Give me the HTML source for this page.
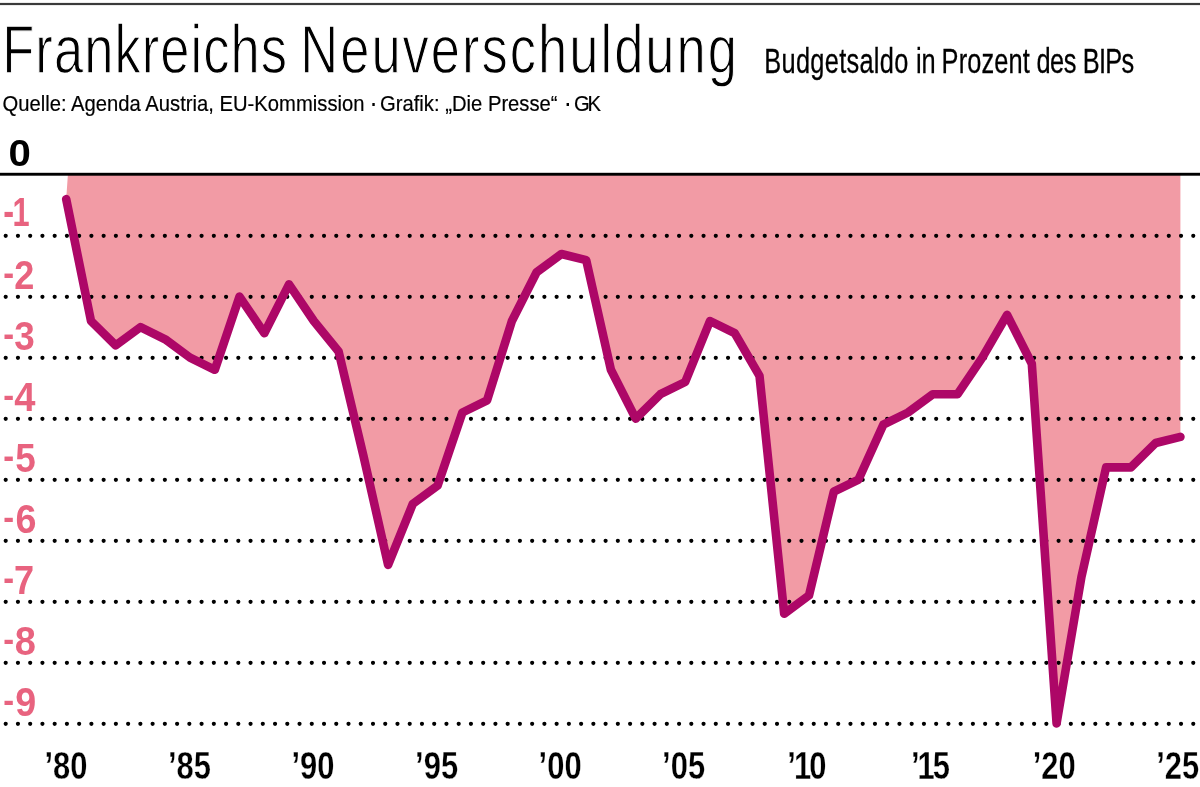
<!DOCTYPE html>
<html lang="de"><head><meta charset="utf-8"><title>Frankreichs Neuverschuldung</title>
<style>
html,body{margin:0;padding:0;background:#fff}
body{width:1200px;height:787px;overflow:hidden}
svg{display:block}
text{font-family:"Liberation Sans",sans-serif}
.b{font-weight:bold}
.thin{stroke:#fff;stroke-width:1.25;vector-effect:non-scaling-stroke}
.med{stroke:#000;stroke-width:.3}
.src{stroke:#000;stroke-width:.2}
.grid line{stroke:#000;stroke-width:4.2;stroke-linecap:round;stroke-dasharray:0 12.243}
.ylab{font-weight:bold;fill:#E8637F;font-size:41px}
.xlab{font-weight:bold;font-size:38.4px;text-anchor:middle;stroke:#fff;stroke-width:.3}
</style></head><body>
<svg width="1200" height="787" viewBox="0 0 1200 787">
<rect width="1200" height="787" fill="#fff"/>
<rect x="0" y="2.9" width="1200" height="2.2" fill="#3a3a3a"/>

<!-- headline -->
<text class="thin" transform="translate(2.2 72.6) scale(0.766 1)" font-size="68.5"><tspan x="0" letter-spacing="1.42">Frankreichs </tspan><tspan x="389.2" letter-spacing="2.64">Neuverschuldung</tspan></text>
<text class="med" transform="translate(764.34 72.6) scale(0.719 1)" font-size="35.3"><tspan x="0" letter-spacing="0.4">Budgetsaldo </tspan><tspan x="211.07" letter-spacing="-0.2">in </tspan><tspan x="246.55" letter-spacing="0.2">Prozent </tspan><tspan x="378.54" letter-spacing="-0.71">des </tspan><tspan x="443.03" letter-spacing="-1.06">BIPs</tspan></text>
<text class="src" transform="scale(0.92 1)" font-size="22"><tspan x="2.72" y="110.8">Quelle: Agenda Austria, EU-Kommission </tspan><tspan x="401.3" y="112.4" font-size="28" stroke="none">· </tspan><tspan x="413.04" y="110.8">Grafik: „Die Presse“ </tspan><tspan x="612.5" y="112.4" font-size="28" stroke="none">· </tspan><tspan x="623.9" y="110.8" letter-spacing="-2.4">GK</tspan></text>

<!-- area -->
<path d="M67.9 174.4 L66.2 199.1 L91.0 321.0 L115.7 345.4 L140.5 327.1 L165.2 339.3 L190.0 357.6 L214.8 369.8 L239.5 296.6 L264.3 333.2 L289.0 284.4 L313.8 321.0 L338.6 351.5 L363.3 455.2 L388.1 564.9 L412.8 503.9 L437.6 485.6 L462.4 412.5 L487.1 400.3 L511.9 321.0 L536.6 272.3 L561.4 254.0 L586.2 260.1 L610.9 369.8 L635.7 418.6 L660.4 394.2 L685.2 382.0 L710.0 321.0 L734.7 333.2 L759.5 375.9 L784.2 613.7 L809.0 595.4 L833.8 491.7 L858.5 479.6 L883.3 424.7 L908.0 412.5 L932.8 394.2 L957.6 394.2 L982.3 357.6 L1007.1 314.9 L1031.8 363.7 L1056.6 723.4 L1081.4 577.1 L1106.1 467.4 L1130.9 467.4 L1155.6 443.0 L1180.4 436.9 L1180.4 174.4 Z" fill="#F29BA5"/>

<!-- dotted grid -->
<g class="grid">
<line x1="5.7" x2="1206" y1="235.8" y2="235.8"/>
<line x1="5.7" x2="1206" y1="296.8" y2="296.8"/>
<line x1="5.7" x2="1206" y1="357.8" y2="357.8"/>
<line x1="5.7" x2="1206" y1="418.8" y2="418.8"/>
<line x1="5.7" x2="1206" y1="479.8" y2="479.8"/>
<line x1="5.7" x2="1206" y1="540.8" y2="540.8"/>
<line x1="5.7" x2="1206" y1="601.8" y2="601.8"/>
<line x1="5.7" x2="1206" y1="662.8" y2="662.8"/>
<line x1="5.7" x2="1206" y1="723.8" y2="723.8"/>
</g>
<rect x="0" y="172.8" width="1200" height="2.9" fill="#000"/>

<!-- data line -->
<path d="M66.2 199.1 L91.0 321.0 L115.7 345.4 L140.5 327.1 L165.2 339.3 L190.0 357.6 L214.8 369.8 L239.5 296.6 L264.3 333.2 L289.0 284.4 L313.8 321.0 L338.6 351.5 L363.3 455.2 L388.1 564.9 L412.8 503.9 L437.6 485.6 L462.4 412.5 L487.1 400.3 L511.9 321.0 L536.6 272.3 L561.4 254.0 L586.2 260.1 L610.9 369.8 L635.7 418.6 L660.4 394.2 L685.2 382.0 L710.0 321.0 L734.7 333.2 L759.5 375.9 L784.2 613.7 L809.0 595.4 L833.8 491.7 L858.5 479.6 L883.3 424.7 L908.0 412.5 L932.8 394.2 L957.6 394.2 L982.3 357.6 L1007.1 314.9 L1031.8 363.7 L1056.6 723.4 L1081.4 577.1 L1106.1 467.4 L1130.9 467.4 L1155.6 443.0 L1180.4 436.9" fill="none" stroke="#AD0767" stroke-width="8.6" stroke-linejoin="round" stroke-linecap="round"/>

<!-- y axis labels -->
<text class="b" transform="translate(8.5 166.3) scale(1.1 1)" font-size="36.5">0</text>
<text class="ylab" transform="translate(12.6 225.8) scale(0.75 1)"><tspan x="-12.53" y="0.33" font-size="43.41">-</tspan><tspan x="0" y="0">1</tspan></text>
<text class="ylab" transform="translate(14.3 288.7) scale(0.88 1)"><tspan x="-12.61" y="-3.28" font-size="37.00">-</tspan><tspan x="0" y="0">2</tspan></text>
<text class="ylab" transform="translate(14.3 349.7) scale(0.9 1)"><tspan x="-12.33" y="-3.50" font-size="36.18">-</tspan><tspan x="0" y="0">3</tspan></text>
<text class="ylab" transform="translate(14.2 410.7) scale(0.93 1)"><tspan x="-11.83" y="-3.82" font-size="35.01">-</tspan><tspan x="0" y="0">4</tspan></text>
<text class="ylab" transform="translate(15.2 471.7) scale(0.9 1)"><tspan x="-13.33" y="-3.50" font-size="36.18">-</tspan><tspan x="0" y="0">5</tspan></text>
<text class="ylab" transform="translate(15.4 532.7) scale(0.92 1)"><tspan x="-13.26" y="-3.72" font-size="35.39">-</tspan><tspan x="0" y="0">6</tspan></text>
<text class="ylab" transform="translate(14.0 593.7) scale(0.88 1)"><tspan x="-12.27" y="-3.28" font-size="37.00">-</tspan><tspan x="0" y="0">7</tspan></text>
<text class="ylab" transform="translate(14.8 654.7) scale(0.928 1)"><tspan x="-12.50" y="-3.80" font-size="35.09">-</tspan><tspan x="0" y="0">8</tspan></text>
<text class="ylab" transform="translate(15.2 715.7) scale(0.92 1)"><tspan x="-13.04" y="-3.72" font-size="35.39">-</tspan><tspan x="0" y="0">9</tspan></text>

<!-- x axis labels -->
<text class="xlab" transform="translate(66.0 779.3) scale(0.805 1)">’80</text>
<text class="xlab" transform="translate(189.5 779.3) scale(0.805 1)">’85</text>
<text class="xlab" transform="translate(313.0 779.3) scale(0.805 1)">’90</text>
<text class="xlab" transform="translate(436.6 779.3) scale(0.805 1)">’95</text>
<text class="xlab" transform="translate(560.1 779.3) scale(0.805 1)">’00</text>
<text class="xlab" transform="translate(683.6 779.3) scale(0.805 1)">’05</text>
<text class="xlab" transform="translate(805.9 779.3) scale(0.805 1)" letter-spacing="-2.4">’10</text>
<text class="xlab" transform="translate(929.5 779.3) scale(0.805 1)" letter-spacing="-2.4">’15</text>
<text class="xlab" transform="translate(1054.2 779.3) scale(0.805 1)">’20</text>
<text class="xlab" transform="translate(1177.7 779.3) scale(0.805 1)">’25</text>
</svg>
</body></html>
